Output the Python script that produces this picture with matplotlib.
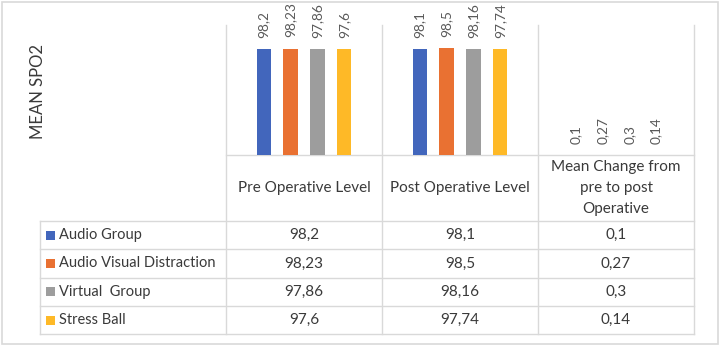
import numpy as np
import matplotlib
matplotlib.use('Agg')
import matplotlib.pyplot as plt
from matplotlib.patches import Rectangle

# Data
categories = ["Pre Operative Level", "Post Operative Level",
              "Mean Change from\npre to post\nOperative"]
groups = ["Audio Group", "Audio Visual Distraction", "Virtual  Group", "Stress Ball"]
audio_group = [98.2, 98.1, 0.1]
audio_visual = [98.23, 98.5, 0.27]
virtual_group = [97.86, 98.16, 0.3]
stress_ball = [97.6, 97.74, 0.14]
y_title = "MEAN SPO2"

series = [audio_group, audio_visual, virtual_group, stress_ball]
colors = ['#4266BC', '#E97132', '#9D9D9D', '#FEB927']
grid_col = '#d9d9d9'
text_col = '#3a3a3a'
label_col = '#595959'

plt.rcParams['font.family'] = ['Lato', 'DejaVu Sans']

W, H = 721, 347
fig = plt.figure(figsize=(W / 100, H / 100), dpi=100)

# layout in pixels
plot_l, plot_r, plot_t, plot_b = 226, 694, 25, 155
leg_l = 40
head_b = 221
row_h = 28.3


def fx(px):
    return px / W


def fy(py):
    return 1 - py / H


# overlay axes in pixel coords for the table and frame
tab = fig.add_axes([0, 0, 1, 1])
tab.set_xlim(0, W)
tab.set_ylim(H, 0)
tab.axis('off')

# outer chart frame
tab.add_patch(Rectangle((1.5, 1.5), W - 5, H - 5, fill=False,
                        edgecolor='#d9d9d9', linewidth=1.2))

# bar plot axes
ax = fig.add_axes([fx(plot_l), fy(plot_b), fx(plot_r - plot_l), (plot_b - plot_t) / H])
ax.set_xlim(0, len(categories))
ax.set_ylim(0, 120)
ax.axis('off')

slot = 0.1717
bar_w = 0.093
x = np.arange(len(categories)) + 0.5
for j, (vals, c) in enumerate(zip(series, colors)):
    xs = x + (j - 1.5) * slot
    ax.bar(xs, vals, width=bar_w, color=c, zorder=3)
    for xi, v in zip(xs, vals):
        ax.annotate(f"{v:g}".replace('.', ','), (xi, v), xytext=(0, 8),
                    textcoords='offset points', rotation=90, ha='center',
                    va='bottom', fontsize=9.8, color=label_col, annotation_clip=False)

# table grid
col_edges = np.linspace(plot_l, plot_r, len(categories) + 1)
n_rows = len(groups)
row_edges = head_b + row_h * np.arange(n_rows + 1)
tab_b = row_edges[-1]

lw = 1.0
for i, xe in enumerate(col_edges):
    tab.plot([xe, xe], [plot_t, tab_b], color=grid_col, lw=lw)
tab.plot([leg_l, leg_l], [head_b, tab_b], color=grid_col, lw=lw)
tab.plot([plot_l, plot_r], [plot_b, plot_b], color=grid_col, lw=lw)
for ye in row_edges:
    tab.plot([leg_l, plot_r], [ye, ye], color=grid_col, lw=lw)

# header text
col_mid = (col_edges[:-1] + col_edges[1:]) / 2
for cx, name in zip(col_mid, categories):
    tab.text(cx, (plot_b + head_b) / 2, name, ha='center', va='center',
             fontsize=11, color=text_col, linespacing=1.6)

# rows
row_mid = (row_edges[:-1] + row_edges[1:]) / 2
for ry, g, vals, c in zip(row_mid, groups, series, colors):
    tab.add_patch(Rectangle((46, ry - 4.5), 9, 9, color=c, linewidth=0))
    tab.text(59, ry, g, ha='left', va='center', fontsize=10.5, color=text_col)
    for cx, v in zip(col_mid, vals):
        tab.text(cx, ry, f"{v:g}".replace('.', ','), ha='center', va='center',
                 fontsize=11, color=text_col)

# y-axis title
tab.text(38, 91, y_title, rotation=90, ha='center', va='center',
         fontsize=12, color=text_col)

fig.savefig('out.png', dpi=100)
